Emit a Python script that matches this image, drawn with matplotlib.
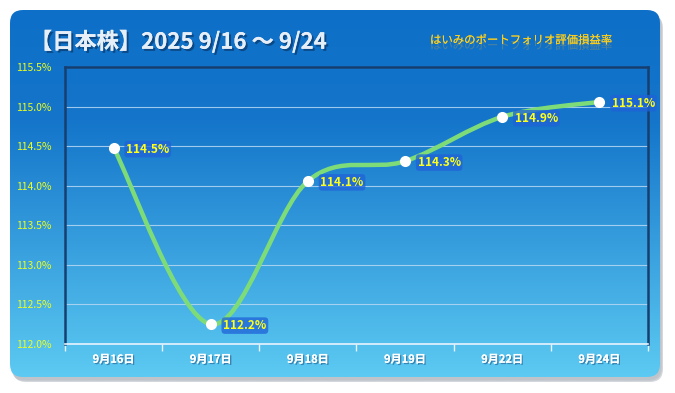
import numpy as np
import matplotlib
matplotlib.use("Agg")
import matplotlib.pyplot as plt
import matplotlib.patheffects as pe
from matplotlib.patches import FancyBboxPatch, PathPatch
from matplotlib.path import Path
from matplotlib.colors import LinearSegmentedColormap

plt.rcParams['font.family'] = ['Noto Sans CJK JP', 'DejaVu Sans']

# データ
dates = ['9月16日', '9月17日', '9月18日', '9月19日', '9月22日', '9月24日']
values = [114.48, 112.25, 114.06, 114.31, 114.87, 115.06]
yticks = [112.0, 112.5, 113.0, 113.5, 114.0, 114.5, 115.0, 115.5]
title = '【日本株】2025 9/16 〜 9/24'
subtitle = 'はいみのポートフォリオ評価損益率'

W, H = 675, 393
fig = plt.figure(figsize=(W / 100, H / 100), dpi=100)

# 背景カード
bg = fig.add_axes([0, 0, 1, 1])
bg.set_xlim(0, W)
bg.set_ylim(H, 0)
bg.axis('off')

for k, a in enumerate([0.25, 0.35, 0.5]):
    sh = FancyBboxPatch((11 + k, 13 + k), 650, 367, boxstyle='round,pad=0,rounding_size=13',
                        facecolor='#aab2bb', edgecolor='none', alpha=a)
    bg.add_patch(sh)
card = FancyBboxPatch((10, 10), 650, 367, boxstyle='round,pad=0,rounding_size=13',
                      facecolor='none', edgecolor='none')
bg.add_patch(card)
cmap = LinearSegmentedColormap.from_list('bgc', [(0, '#0e6fc8'), (0.3, '#1475ca'),
                                                  (1, '#5ccaf2')])
grad = np.linspace(0, 1, 256).reshape(-1, 1)
im = bg.imshow(grad, cmap=cmap, extent=(10, 660, 377, 10), aspect='auto', zorder=1)
im.set_clip_path(card)

bg.text(30, 42, title, color='#e6eef8', fontsize=16, fontweight='bold', va='center', ha='left',
        zorder=3, path_effects=[pe.withSimplePatchShadow(offset=(1.5, -1.5), shadow_rgbFace='#08386a',
                                                          alpha=0.7), pe.Normal()])
bg.text(430, 40, subtitle, color='#ffcf1a', fontsize=8.2, va='center', ha='left',
        zorder=3, path_effects=[pe.withSimplePatchShadow(offset=(0, -4), shadow_rgbFace='#c9a84a',
                                                          alpha=0.35), pe.Normal()])

# グラフ
left, top, right, bottom = 65, 67, 648, 344
ax = fig.add_axes([left / W, (H - bottom) / H, (right - left) / W, (bottom - top) / H])
ax.set_facecolor('none')
ax.set_xlim(-0.5, len(dates) - 0.5)
ax.set_ylim(112.0, 115.5)

for s in ['left', 'right', 'top']:
    ax.spines[s].set_color('#163f70')
    ax.spines[s].set_linewidth(1.8)
ax.spines['bottom'].set_color('#e8f4ff')
ax.spines['bottom'].set_linewidth(1.2)

ax.set_yticks(yticks)
ax.set_yticklabels([f'{v:.1f}%' for v in yticks], color='#ecff1e', fontsize=7.5)
ax.tick_params(axis='y', length=0, pad=10)
ax.set_xticks(np.arange(len(dates) + 1) - 0.5, minor=False)
ax.set_xticklabels([])
ax.tick_params(axis='x', direction='out', length=5, color='#e8f4ff', width=1)
ax.grid(axis='y', color='#b8d8f4', linewidth=0.8, alpha=0.85)
ax.set_axisbelow(True)

for i, d in enumerate(dates):
    ax.text(i, -0.055, d, transform=ax.get_xaxis_transform(), ha='center', va='center',
            color='white', fontsize=8, fontweight='bold',
            path_effects=[pe.withSimplePatchShadow(offset=(1, -1), shadow_rgbFace='#2a6a9a', alpha=0.7),
                          pe.Normal()])

# スムージング線 (ベジェ)
x = np.arange(len(values), dtype=float)
y = np.array(values)
verts = [(x[0], y[0])]
codes = [Path.MOVETO]
for i in range(len(x) - 1):
    p0 = (x[max(i - 1, 0)], y[max(i - 1, 0)])
    p1 = (x[i], y[i])
    p2 = (x[i + 1], y[i + 1])
    p3 = (x[min(i + 2, len(x) - 1)], y[min(i + 2, len(x) - 1)])
    c1 = (p1[0] + (p2[0] - p0[0]) / 6, p1[1] + (p2[1] - p0[1]) / 6)
    c2 = (p2[0] - (p3[0] - p1[0]) / 6, p2[1] - (p3[1] - p1[1]) / 6)
    verts += [c1, c2, p2]
    codes += [Path.CURVE4] * 3
ax.add_patch(PathPatch(Path(verts, codes), facecolor='none', edgecolor='#7edc78', linewidth=3.2,
                       capstyle='round', zorder=3))
ax.plot(x, y, 'o', color='white', markersize=8, markeredgewidth=0, zorder=4)

for xi, yi in zip(x, y):
    ax.annotate(f'{yi:.1f}%', (xi, yi), xytext=(9, -1), textcoords='offset points',
                ha='left', va='center', color='#ffff1a', fontsize=8.5, fontweight='bold', zorder=5,
                bbox=dict(boxstyle='round,pad=0.15,rounding_size=0.3', facecolor='#1f62d8',
                          edgecolor='none', alpha=0.75))

fig.savefig('out.png', dpi=100)
